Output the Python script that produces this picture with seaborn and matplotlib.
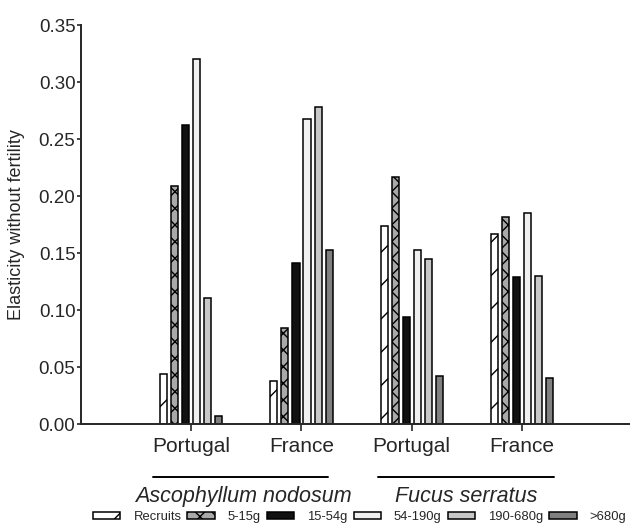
import matplotlib
matplotlib.use("Agg")
import matplotlib.pyplot as plt
import matplotlib.transforms as mtransforms
from matplotlib.patches import Patch
import seaborn as sns
import pandas as pd

sites = ["A_Portugal", "A_France", "F_Portugal", "F_France"]
site_labels = ["Portugal", "France", "Portugal", "France"]
species = ["Ascophyllum nodosum", "Fucus serratus"]
size_classes = ["Recruits", "5-15g", "15-54g", "54-190g", "190-680g", ">680g"]

recruits = [0.044, 0.038, 0.174, 0.167]
g5_15 = [0.209, 0.084, 0.217, 0.182]
g15_54 = [0.262, 0.141, 0.094, 0.129]
g54_190 = [0.320, 0.268, 0.153, 0.185]
g190_680 = [0.111, 0.278, 0.145, 0.130]
g680 = [0.007, 0.153, 0.042, 0.040]

series = [recruits, g5_15, g15_54, g54_190, g190_680, g680]
colors = ["#ffffff", "#a9a9a9", "#111111", "#f0f0f0", "#c8c8c8", "#808080"]
hatches = ["/", "xx", "", "", "", ""]

rows = []
for cls, vals in zip(size_classes, series):
    for s, v in zip(sites, vals):
        rows.append({"site": s, "size": cls, "value": v})
df = pd.DataFrame(rows)

sns.set_theme(style="ticks")
plt.rcParams["font.family"] = ["Liberation Sans", "DejaVu Sans"]
plt.rcParams["hatch.linewidth"] = 1.0
plt.rcParams["hatch.color"] = "black"

fig = plt.figure(figsize=(6.3, 5.24), dpi=100)
ax = fig.add_axes([0.1286, 0.1908, 0.8714, 0.7612])

sns.barplot(data=df, x="site", y="value", hue="size", order=sites,
            hue_order=size_classes, palette=colors, width=0.6, gap=0.36,
            edgecolor="black", linewidth=1.1, saturation=1, ax=ax,
            legend=False)

for cont, h in zip(ax.containers, hatches):
    for bar in cont:
        bar.set_hatch(h)

ax.set_xlim(-1.0, 3.98)
ax.set_ylim(0, 0.35)
ax.set_yticks([0, 0.05, 0.10, 0.15, 0.20, 0.25, 0.30, 0.35])
ax.set_yticklabels([f"{v:.2f}" for v in ax.get_yticks()], fontsize=13.5)
ax.set_xticks(range(len(sites)))
ax.set_xticklabels(site_labels, fontsize=15)
ax.set_xlabel("")
ax.set_ylabel("Elasticity without fertility", fontsize=13, labelpad=10)
sns.despine(ax=ax, top=True, right=True)
for sp in ["left", "bottom"]:
    ax.spines[sp].set_linewidth(1.4)
ax.tick_params(axis="y", length=3, width=1.2, pad=1)
ax.tick_params(axis="x", length=5, width=1.2, pad=4)

trans = mtransforms.blended_transform_factory(ax.transData, ax.transAxes)
line_spans = [(-0.345, 1.24), (1.69, 3.29)]
text_centers = [0.47, 2.49]
for (x0, x1), xc, name in zip(line_spans, text_centers, species):
    ax.plot([x0, x1], [-0.133, -0.133], color="black", lw=1.4,
            transform=trans, clip_on=False)
    ax.text(xc, -0.182, name, transform=trans, ha="center", va="center",
            fontsize=15.5, style="italic")

handles = [Patch(facecolor=c, edgecolor="black", hatch=h, linewidth=1.1,
                 label=l) for c, h, l in zip(colors, hatches, size_classes)]
fig.legend(handles=handles, loc="center", bbox_to_anchor=(0.571, 0.013),
           ncol=6, frameon=False, fontsize=9.4, handlelength=2.1,
           handleheight=0.5, handletextpad=1.0, columnspacing=0.45,
           borderaxespad=0)

fig.savefig("out.png", dpi=100)
